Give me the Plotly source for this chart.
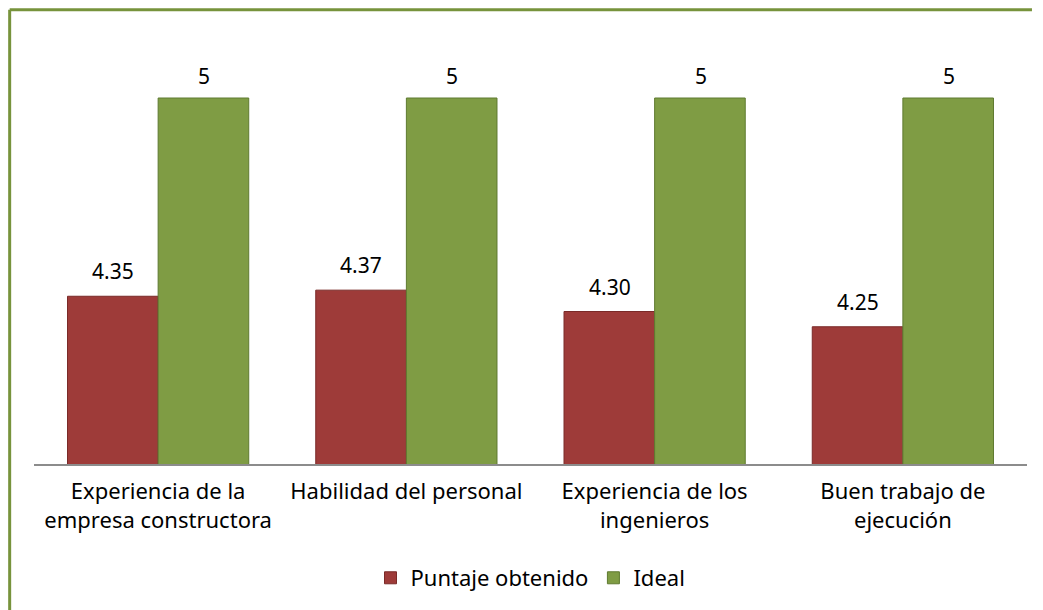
import plotly.graph_objects as go

categories = [
    "Experiencia de la<br>empresa constructora",
    "Habilidad del personal",
    "Experiencia de los<br>ingenieros",
    "Buen trabajo de<br>ejecución",
]
puntaje = [4.35, 4.37, 4.30, 4.25]
puntaje_labels = ["4.35", "4.37", "4.30", "4.25"]
ideal = [5, 5, 5, 5]
ideal_labels = ["5", "5", "5", "5"]

font_family = "Noto Sans, DejaVu Sans, sans-serif"
red = "#9e3b39"
green = "#7f9c44"
frame = "#77933c"

fig = go.Figure()
fig.add_bar(
    x=categories, y=puntaje, name="Puntaje obtenido",
    marker=dict(color=red, line=dict(color="#7a2a28", width=1)),
)
fig.add_bar(
    x=categories, y=ideal, name="Ideal",
    marker=dict(color=green, line=dict(color="#5f7a30", width=1)),
)

# value labels above the bars
for i, cat in enumerate(categories):
    for val, lab, shift, ys in ((puntaje[i], puntaje_labels[i], -45, 9),
                                (ideal[i], ideal_labels[i], 46, 6)):
        fig.add_annotation(
            x=cat, y=val, text=lab, showarrow=False,
            xshift=shift, yshift=ys, yanchor="bottom",
            font=dict(size=21, color="#000000", family=font_family),
        )

# green frame (only top and left edges visible in the picture)
fig.add_shape(type="line", xref="paper", yref="paper", x0=-0.0245, x1=1.005,
              y0=1.064, y1=1.064, line=dict(color=frame, width=3))
fig.add_shape(type="line", xref="paper", yref="paper", x0=-0.0245, x1=-0.0245,
              y0=1.064, y1=-0.4, line=dict(color=frame, width=3))

# figure sits inside the page's 8px body margin, so keep it within the window
fig.update_layout(
    width=1035, height=602,
    margin=dict(l=26, r=16, t=29, b=145),
    paper_bgcolor="white", plot_bgcolor="white",
    barmode="group", bargap=0.27, bargroupgap=0,
    font=dict(family=font_family, size=22, color="#000000"),
    showlegend=True,
    legend=dict(orientation="h", x=0.5, xanchor="center", y=-0.264,
                yanchor="middle", font=dict(size=22), itemwidth=30,
                tracegroupgap=0),
)
fig.update_xaxes(showline=True, linecolor="#8c8c8c", linewidth=2,
                 ticks="", tickfont=dict(size=22), ticklabelstandoff=7)
fig.update_yaxes(range=[3.8, 5.2], visible=False)

fig.write_html("out.html")
